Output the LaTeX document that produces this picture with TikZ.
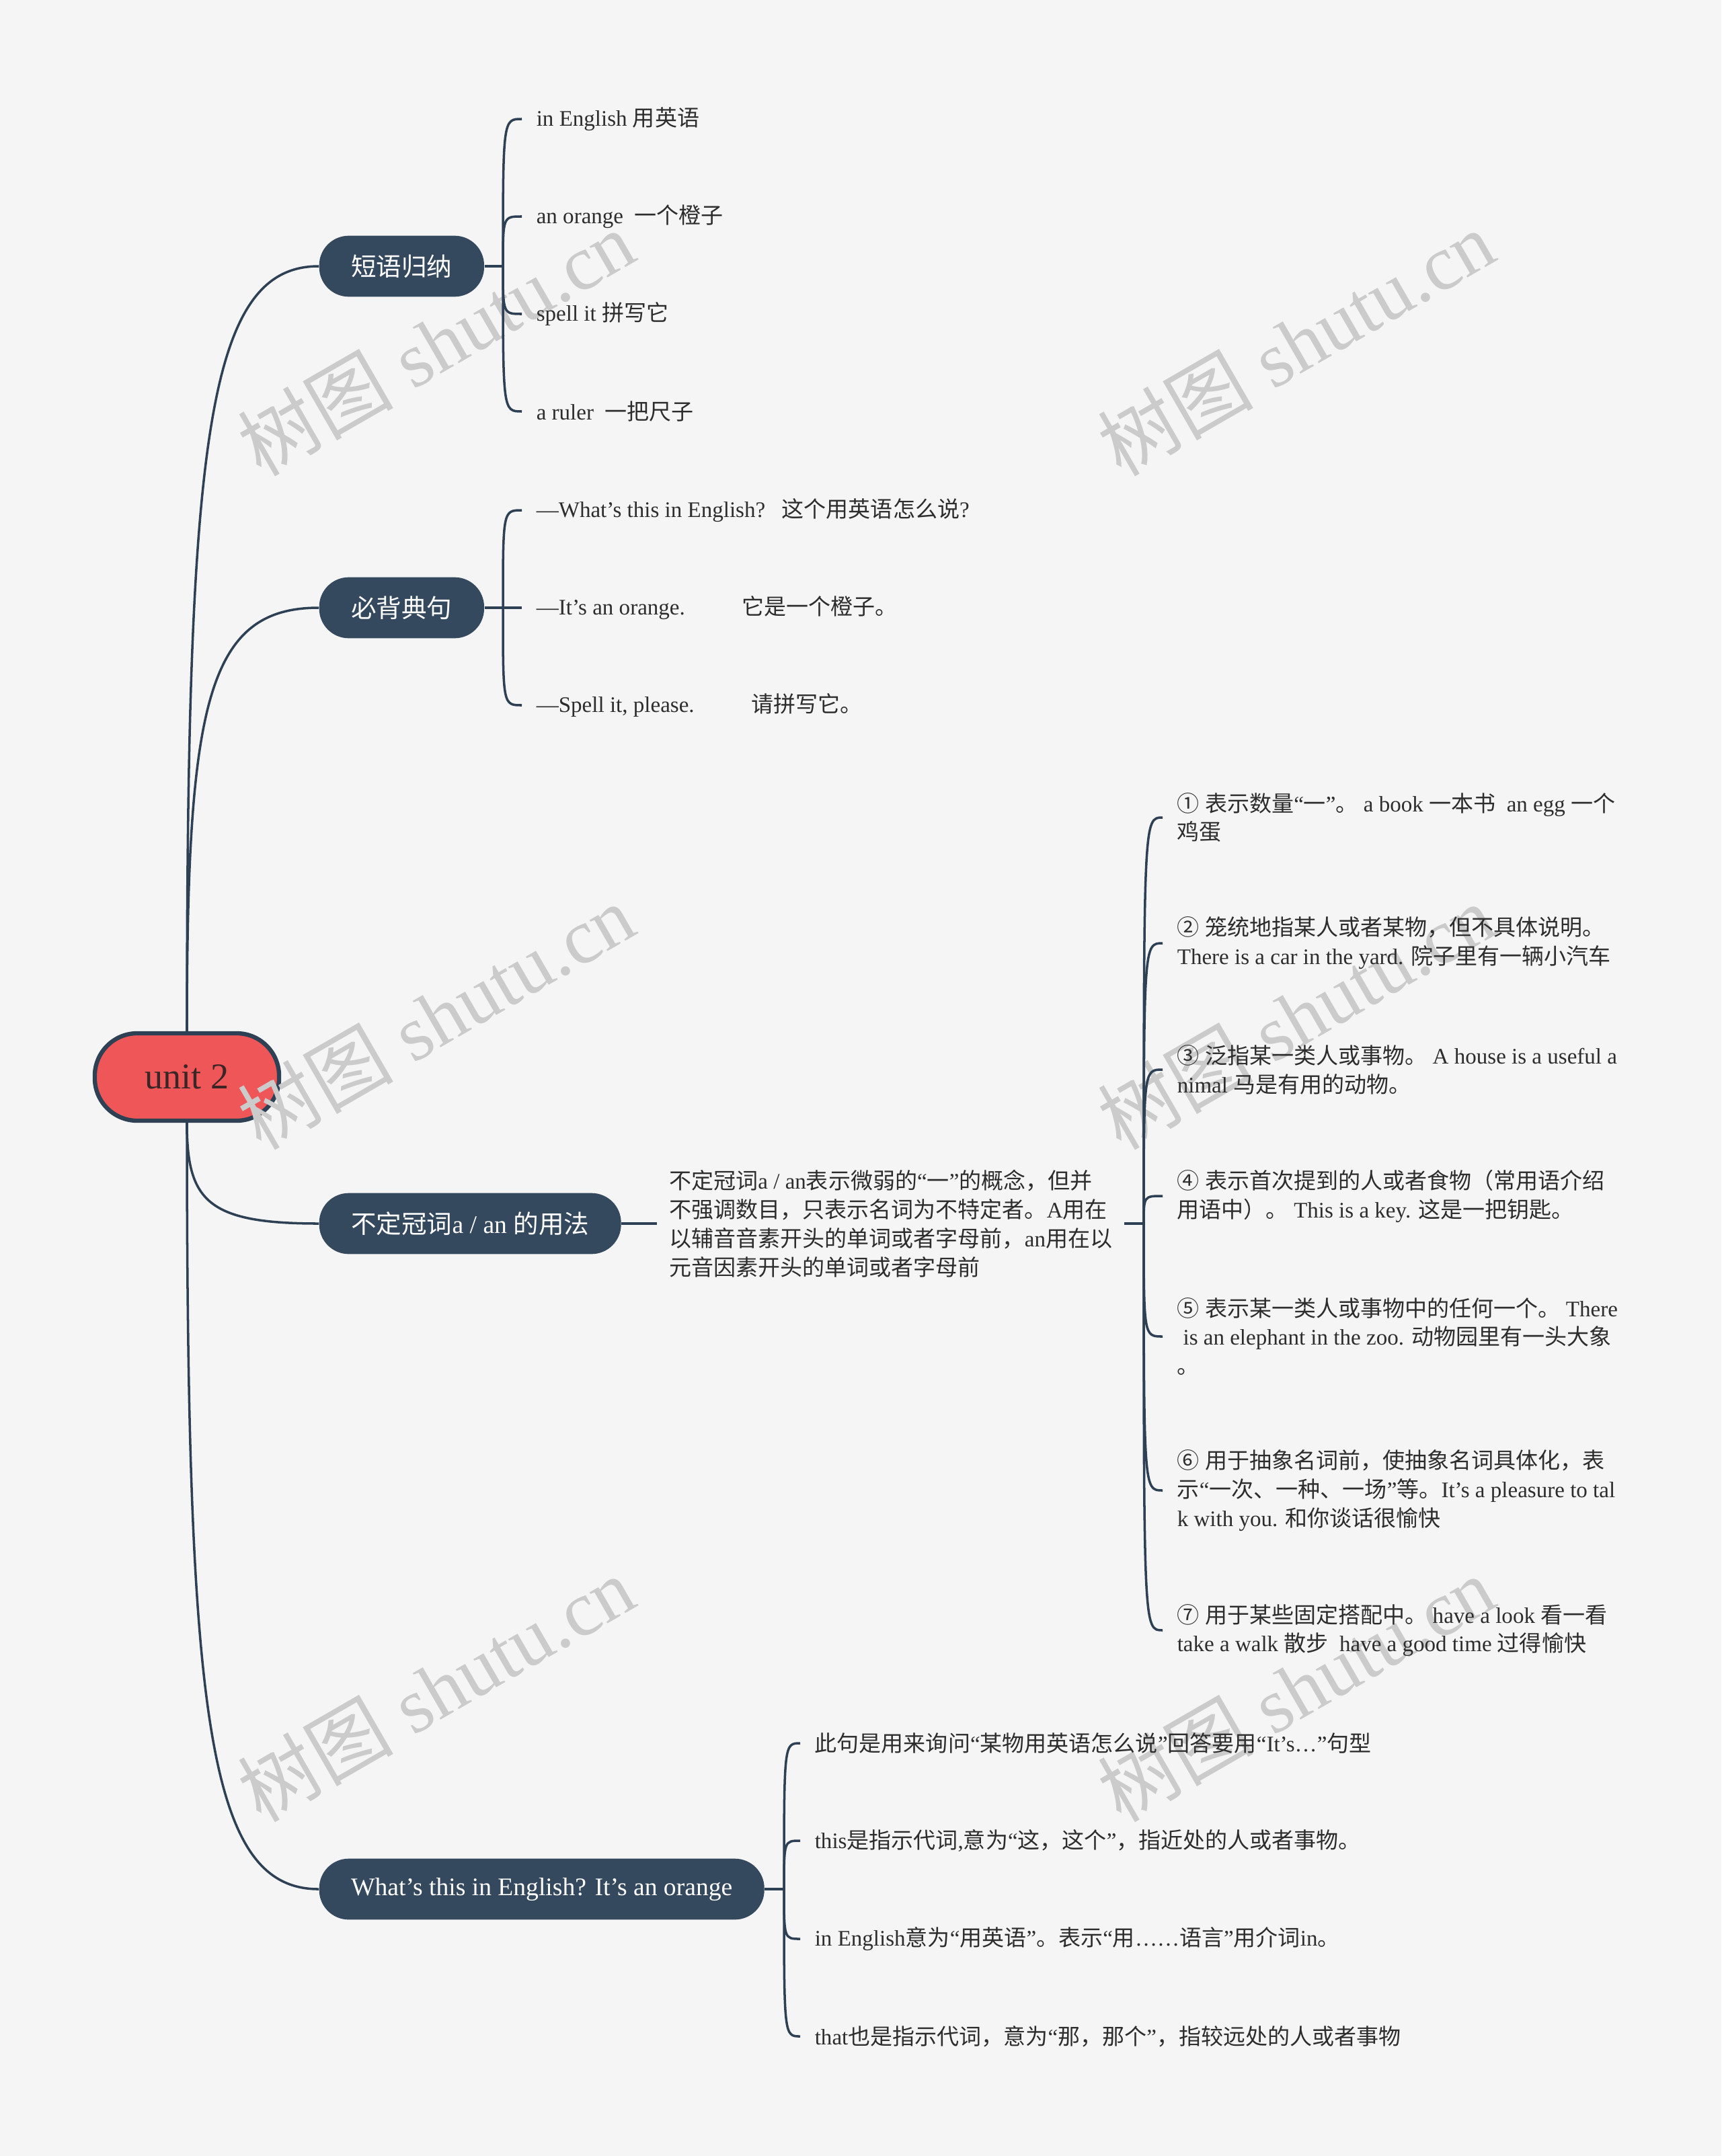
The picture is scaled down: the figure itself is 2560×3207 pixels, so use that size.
\documentclass[tikz,border=0pt]{standalone}
\usepackage{fontspec}
\setmainfont{Liberation Serif}
\newfontfamily\cjkfont{Noto Sans CJK SC}
\usetikzlibrary{calc}
% chinese runs switch to the cjk face on their own
\XeTeXinterchartokenstate=1
\newXeTeXintercharclass\cjkclass
\newcount\cjkcnt
\cjkcnt="20 \loop\XeTeXcharclass\cjkcnt=0 \ifnum\cjkcnt<"2FFF \advance\cjkcnt by 1 \repeat
\cjkcnt="2460 \loop\XeTeXcharclass\cjkcnt=\cjkclass \ifnum\cjkcnt<"24FF \advance\cjkcnt by 1 \repeat
\cjkcnt="3000 \loop\XeTeXcharclass\cjkcnt=\cjkclass \ifnum\cjkcnt<"9FFF \advance\cjkcnt by 1 \repeat
\cjkcnt="FF00 \loop\XeTeXcharclass\cjkcnt=\cjkclass \ifnum\cjkcnt<"FFEF \advance\cjkcnt by 1 \repeat
\XeTeXinterchartoks 0 \cjkclass={\cjkfont}
\XeTeXinterchartoks 4095 \cjkclass={\cjkfont}
\XeTeXinterchartoks \cjkclass 0={\rmfamily}
\XeTeXinterchartoks \cjkclass 4095={\rmfamily}
\XeTeXinterchartoks 4095 0={\rmfamily}
\definecolor{bgc}{RGB}{245,245,245}
\definecolor{nodec}{RGB}{52,72,94}
\definecolor{linec}{RGB}{46,64,84}
\definecolor{rootc}{RGB}{239,86,88}
\definecolor{roottxt}{RGB}{58,38,38}
\definecolor{txt}{RGB}{45,45,45}
\definecolor{wmc}{RGB}{203,203,203}
\tikzset{
  root/.style={draw=linec,fill=rootc,line width=1.8pt,rounded corners=18pt,minimum width=78pt,minimum height=37pt,text=roottxt,font=\fontsize{15.4}{18}\selectfont},
  branch/.style={fill=nodec,rounded corners=12.5pt,minimum height=25.8pt,inner xsep=13.5pt,text=white,font=\fontsize{10.7}{13}\selectfont,anchor=west},
  leaf/.style={anchor=west,align=left,inner xsep=6pt,inner ysep=2pt,text=txt,font=\fontsize{9.4}{12.2}\selectfont},
  link/.style={draw=linec,line width=1pt},
  wmark/.style={text=wmc,rotate=30,font=\fontsize{33}{40}\selectfont},
}
\newcommand{\rootlink}[2]{% centre node to a main topic
  \draw[link] (#1) .. controls ($(#1 |- #2.west)!0.23!(#1)$) and ($(#2.west)!0.85!(#1 |- #2.west)$) .. (#2.west);}
\newcommand{\leaflink}[2]{% fork to one leaf
  \draw[link] (#1) .. controls (#1 |- #2.west) .. (#2.west);}

\begin{document}
\begin{tikzpicture}[x=0.1mm,y=-0.1mm]
\fill[bgc] (0,0) rectangle (2560,3207);
\node[root] (unit) at (278,1602) {unit 2};
% watermark: over the centre node, under the rest
\foreach \wx in {648,1927}
  \foreach \wy in {510,1512,2512}
    \node[wmark] (wm-\wx-\wy) at (\wx,\wy) {树图 shutu.cn};

% ---- main topics ----
\node[branch] (phr) at (474,396) {短语归纳};
\node[branch] (sen) at (474,904) {必背典句};
\node[branch] (art) at (474,1820) {不定冠词a / an 的用法};
\node[branch] (qa) at (474,2810) {What’s this in English? It’s an orange};
\rootlink{unit.north}{phr}
\rootlink{unit.north}{sen}
\rootlink{unit.south}{art}
\rootlink{unit.south}{qa}

% ---- phrases ----
\coordinate (j1) at (748,396);
\draw[link] (phr.east) -- (j1);
\foreach \lbl [count=\i] in {in English 用英语, an orange\ \ 一个橙子, spell it 拼写它, a ruler\ \ 一把尺子}{
  \node[leaf] (p\i) at (776,{177+145*(\i-1)}) {\lbl};
  \leaflink{j1}{p\i}
}

% ---- sentences ----
\coordinate (j2) at (748,904);
\draw[link] (sen.east) -- (j2);
\node[leaf] (s1) at (776,759) {—What’s this in English?\hspace{7pt}这个用英语怎么说?};
\node[leaf] (s2) at (776,904) {—It’s an orange.\hspace{24pt}它是一个橙子。};
\node[leaf] (s3) at (776,1049) {—Spell it, please.\hspace{24pt}请拼写它。};
\foreach \i in {1,2,3}{\leaflink{j2}{s\i}}

% ---- a / an ----
\node[leaf,inner xsep=5pt] (def) at (977,1820) {不定冠词a / an表示微弱的“一”的概念，但并\\不强调数目，只表示名词为不特定者。A用在\\以辅音音素开头的单词或者字母前，an用在以\\元音因素开头的单词或者字母前};
\draw[link] (art.east) -- (def.west);
\coordinate (j3) at (1701,1820);
\draw[link] (def.east) -- (j3);
\node[leaf] (a1) at (1729,1216) {① 表示数量“一”。 a book 一本书\ \ an egg 一个\\鸡蛋};
\node[leaf] (a2) at (1729,1403) {② 笼统地指某人或者某物，但不具体说明。\\There is a car in the yard. 院子里有一辆小汽车};
\node[leaf] (a3) at (1729,1591) {③ 泛指某一类人或事物。 A house is a useful a\\nimal 马是有用的动物。};
\node[leaf] (a4) at (1729,1779) {④ 表示首次提到的人或者食物（常用语介绍\\用语中）。 This is a key. 这是一把钥匙。};
\node[leaf] (a5) at (1729,1988) {⑤ 表示某一类人或事物中的任何一个。 There\\\hspace{2.5pt}is an elephant in the zoo. 动物园里有一头大象\\。};
\node[leaf] (a6) at (1729,2217) {⑥ 用于抽象名词前，使抽象名词具体化，表\\示“一次、一种、一场”等。It’s a pleasure to tal\\k with you. 和你谈话很愉快};
\node[leaf] (a7) at (1729,2425) {⑦ 用于某些固定搭配中。 have a look 看一看\\take a walk 散步\ \ have a good time 过得愉快};
\foreach \i in {1,...,7}{\leaflink{j3}{a\i}}

% ---- what's this ----
\coordinate (j4) at (1166,2810);
\draw[link] (qa.east) -- (j4);
\node[leaf] (q1) at (1190,2593) {此句是用来询问“某物用英语怎么说”回答要用“It’s…”句型};
\node[leaf] (q2) at (1190,2738) {this是指示代词,意为“这，这个”，指近处的人或者事物。};
\node[leaf] (q3) at (1190,2884) {in English意为“用英语”。表示“用……语言”用介词in。};
\node[leaf] (q4) at (1190,3029) {that也是指示代词，意为“那，那个”，指较远处的人或者事物};
\foreach \i in {1,...,4}{\leaflink{j4}{q\i}}
\end{tikzpicture}
\end{document}
